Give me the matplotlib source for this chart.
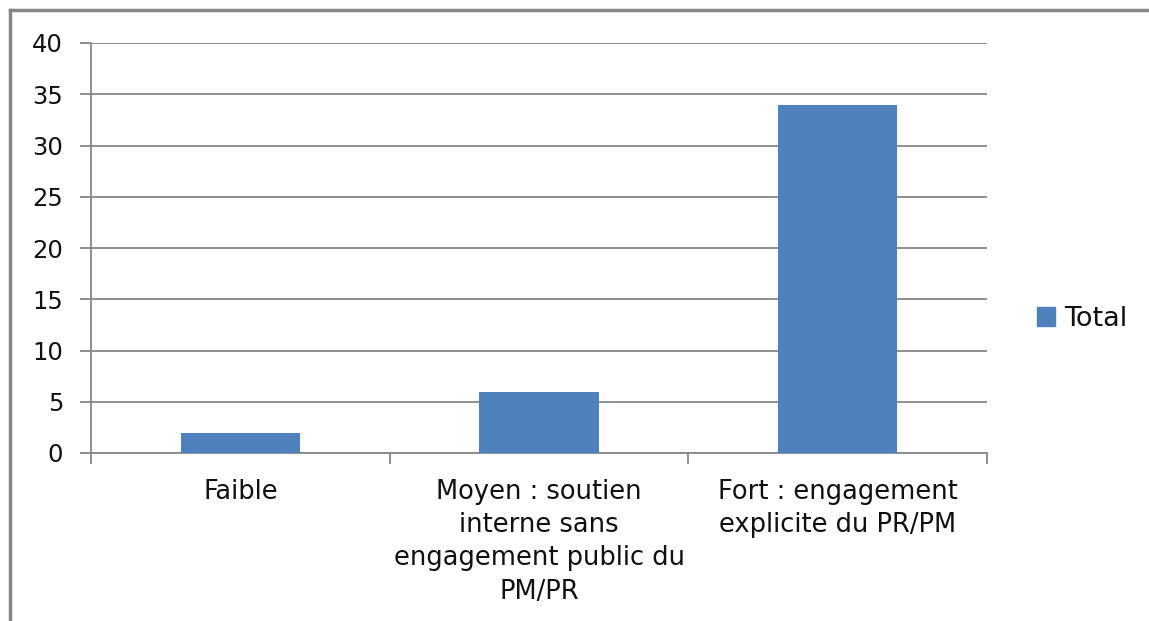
import matplotlib.pyplot as plt
from matplotlib.patches import Patch
from matplotlib.lines import Line2D
import numpy as np

# donnees
categories = ['Faible',
              'Moyen : soutien\ninterne sans\nengagement public du\nPM/PR',
              'Fort : engagement\nexplicite du PR/PM']
total = [2, 6, 34]
yticks = [0, 5, 10, 15, 20, 25, 30, 35, 40]

plt.rcParams['font.family'] = ['DejaVu Sans']
grey = '#878787'
blue = '#4f81bd'

fig = plt.figure(figsize=(11.49, 6.21), dpi=100)
ax = fig.add_axes([91/1149, 1 - 453/621, (987-91)/1149, (453-43)/621])

x = np.arange(len(categories))
ax.bar(x, total, width=0.4, color=blue, zorder=3)
ax.set_xlim(-0.5, len(categories) - 0.5)
ax.set_ylim(0, 40)

ax.set_yticks(yticks)
ax.set_yticklabels([str(v) for v in yticks], fontsize=17.5, color='#111111')
ax.yaxis.grid(True, color=grey, linewidth=1.3)
ax.set_axisbelow(True)
ax.tick_params(axis='y', length=8, color=grey, width=1.3, pad=12)

ax.set_xticks(np.arange(-0.5, len(categories)), minor=False)
ax.set_xticklabels([])
ax.tick_params(axis='x', length=8, color=grey, width=1.3)
for i, lab in enumerate(categories):
    ax.text(i, -2.5, lab, ha='center', va='top', fontsize=18.5, linespacing=1.37,
            color='#111111')

for s in ['top', 'right']:
    ax.spines[s].set_visible(False)
ax.spines['left'].set_color(grey)
ax.spines['left'].set_linewidth(1.3)
ax.spines['bottom'].set_color(grey)
ax.spines['bottom'].set_linewidth(1.3)

handles = [Patch(color=blue, label='Total')]
fig.legend(handles=handles, loc='center left', bbox_to_anchor=(1013/1149, 1 - 319/621),
           frameon=False, fontsize=19.5, handlelength=0.65, handleheight=0.65,
           handletextpad=0.35, labelcolor='#111111')

# cadre du graphique
fig.add_artist(Line2D([10/1149, 1], [1 - 10/621, 1 - 10/621], color=grey, linewidth=2.5))
fig.add_artist(Line2D([10/1149, 10/1149], [0, 1 - 10/621], color=grey, linewidth=2.5))

fig.savefig('out.png', dpi=100)
